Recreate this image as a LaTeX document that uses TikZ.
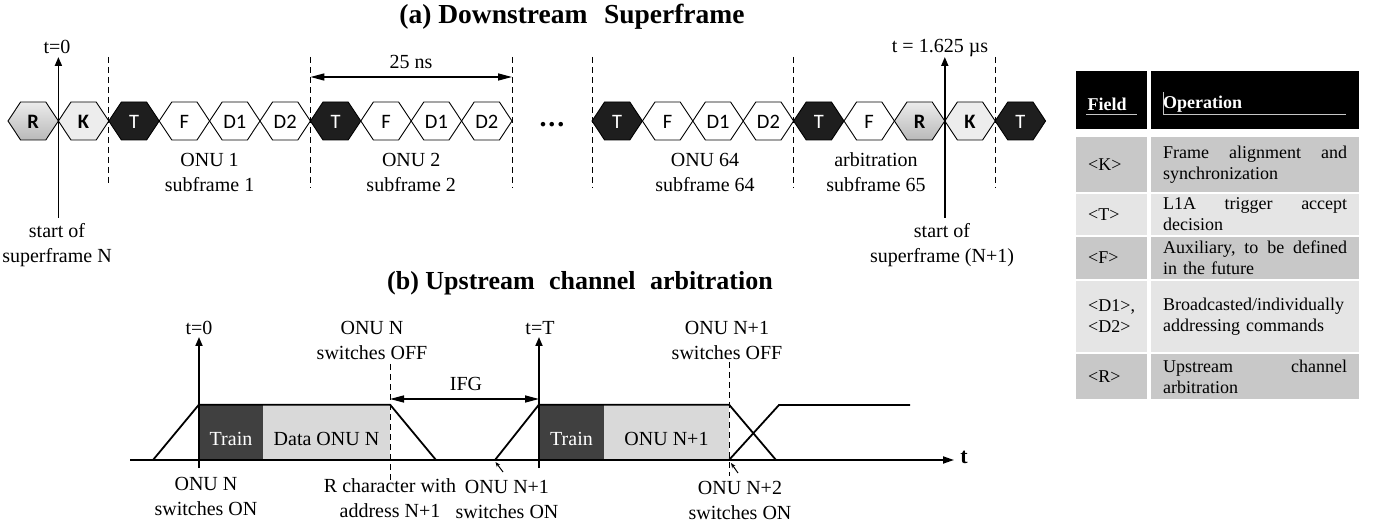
\documentclass[tikz,border=0pt]{standalone}
\usepackage{fontspec}
\setmainfont{Liberation Serif}
\newfontfamily\hexfont{Carlito}
\usetikzlibrary{arrows.meta}
\definecolor{hexK}{HTML}{EDEDED}
\definecolor{hexT}{HTML}{1E1E1E}
\definecolor{darkbox}{HTML}{404040}
\definecolor{lightbox}{HTML}{D9D9D9}
\definecolor{rowmid}{HTML}{C8C8C8}
\definecolor{rowlight}{HTML}{E5E5E5}
\newcommand{\hexcell}[5]{%
  \path[hexline,#3] ({#2-25.2},121) -- ({#2-12.6},102) -- ({#2+12.6},102) -- ({#2+25.2},121) -- ({#2+12.6},140) -- ({#2-12.6},140) -- cycle;
  \node[hexlabel,#4] (#1) at (#2,121.5) {#5};}
\newcommand{\justline}[1]{\makebox[184pt]{#1}}
\begin{document}
\begin{tikzpicture}[x=1pt,y=-1pt,
  hexline/.style={draw=black, line width=0.9pt, line join=miter},
  hexlabel/.style={font=\hexfont\fontsize{20.5}{21}\selectfont, inner sep=0pt},
  rfill/.style={top color=gray!15, bottom color=gray!55},
  kfill/.style={fill=hexK},
  tfill/.style={fill=hexT},
  wfill/.style={fill=white},
  dtext/.style={text=black, font=\hexfont\bfseries\fontsize{20.5}{21}\selectfont},
  wtext/.style={text=white},
  ntext/.style={text=black},
  lab/.style={font=\fontsize{20}{25}\selectfont, align=center, inner sep=0pt},
  ttl/.style={font=\bfseries\fontsize{27.5}{30}\selectfont, inner sep=0pt},
  dashline/.style={draw=black, line width=1pt, dash pattern=on 6pt off 4pt},
  timearrow/.style={draw=black, line width=1.8pt, -{Triangle[length=9pt,width=7pt]}},
  spanarrow/.style={draw=black, line width=1.5pt, {Triangle[length=14pt,width=7pt]}-{Triangle[length=14pt,width=7pt]}},
  sig/.style={draw=black, line width=1.8pt, line join=miter},
  ptr/.style={draw=black, line width=1pt, -{Stealth[length=5pt,width=4pt]}},
  trainbox/.style={fill=darkbox, minimum height=55pt, inner sep=0pt},
  databox/.style={fill=lightbox, minimum height=55pt, inner sep=0pt},
  boxtext/.style={font=\fontsize{20}{22}\selectfont, inner sep=0pt},
  hcell/.style={fill=black, anchor=north west, inner sep=0pt},
  cell/.style={anchor=north west, inner sep=0pt},
  htext/.style={text=white, font=\bfseries\fontsize{18}{21}\selectfont, inner sep=0pt},
  ftext/.style={font=\fontsize{18}{21}\selectfont, inner sep=0pt, anchor=west, align=left},
  otext/.style={font=\fontsize{18}{21}\selectfont, inner sep=0pt, anchor=west, text width=186pt, align=left}
]
\useasboundingbox (0,0) rectangle (1374,529);

% ---------------- (a) Downstream superframe ----------------
\node[ttl] (titleA) at (572,17) {(a) Downstream\hspace{0.35em} Superframe};

% row 1 hexagons
\hexcell{hRa}{33.2}{rfill}{dtext}{R}
\hexcell{hKa}{83.6}{kfill}{dtext}{K}
\hexcell{hTa}{134}{tfill}{wtext}{T}
\hexcell{hFa}{184.4}{wfill}{ntext}{F}
\hexcell{hDa}{234.8}{wfill}{ntext}{D1}
\hexcell{hDb}{285.2}{wfill}{ntext}{D2}
\hexcell{hTb}{335.6}{tfill}{wtext}{T}
\hexcell{hFb}{386}{wfill}{ntext}{F}
\hexcell{hDc}{436.4}{wfill}{ntext}{D1}
\hexcell{hDd}{486.8}{wfill}{ntext}{D2}
% row 2 hexagons
\hexcell{hTc}{617.2}{tfill}{wtext}{T}
\hexcell{hFc}{667.6}{wfill}{ntext}{F}
\hexcell{hDe}{718}{wfill}{ntext}{D1}
\hexcell{hDf}{768.4}{wfill}{ntext}{D2}
\hexcell{hTd}{818.8}{tfill}{wtext}{T}
\hexcell{hFd}{869.2}{wfill}{ntext}{F}
\hexcell{hRb}{919.6}{rfill}{dtext}{R}
\hexcell{hKb}{970}{kfill}{dtext}{K}
\hexcell{hTe}{1020.4}{tfill}{wtext}{T}

\node[anchor=base, inner sep=0pt, font=\bfseries\fontsize{28}{28}\selectfont] (dots) at (552,127) {.\hspace{2pt}.\hspace{2pt}.};

% dashed separators
\foreach \n/\x/\b in {da/108.8/184, db/310.4/188, dc/512/188, dd/592/188, de/793.6/188, df/995.2/188}{
  \coordinate (\n top) at (\x,57);
  \coordinate (\n bot) at (\x,\b);
  \draw[dashline] (\n top) -- (\n bot);
}

% 25 ns span
\coordinate (nsL) at (310.4,77);
\coordinate (nsR) at (512,77);
\draw[spanarrow] (nsL) -- (nsR);
\node[lab] (ns) at (411,62) {25 ns};

% time markers
\node[lab] (t0a) at (57,47) {t=0};
\coordinate (t0abot) at (58.4,218);
\coordinate (t0atop) at (58.4,57);
\draw[timearrow] (t0abot) -- (t0atop);
\node[lab] (tend) at (940,48) {t = 1.625 µs};
\coordinate (tebot) at (944.8,218);
\coordinate (tetop) at (944.8,57);
\draw[timearrow] (tebot) -- (tetop);

% labels
\node[lab] (sfN) at (57,245) {start of\\superframe N};
\node[lab] (sf1) at (209.6,172.5) {ONU 1\\subframe 1};
\node[lab] (sf2) at (411.2,172.5) {ONU 2\\subframe 2};
\node[lab] (sf64) at (705,172.5) {ONU 64\\subframe 64};
\node[lab] (sf65) at (876,172.5) {arbitration\\subframe 65};
\node[lab] (sfN1) at (942,245) {start of\\superframe (N+1)};

% ---------------- (b) Upstream channel arbitration ----------------
\node[ttl, font=\bfseries\fontsize{26}{30}\selectfont] (titleB) at (580,283) {(b) Upstream\hspace{0.3em} channel\hspace{0.3em} arbitration};

\coordinate (ax0) at (130,460);
\coordinate (ax1) at (954,460);

% ONU N burst
\node[trainbox, minimum width=64pt] (tr1) at (231,432.5) {};
\node[databox, minimum width=127pt] (da1) at (326.5,432.5) {};
\node[boxtext, text=white] (tr1t) at (231,439) {Train};
\node[boxtext] (da1t) at (326.5,439) {Data ONU N};
\coordinate (r1a) at (153,460);
\coordinate (r1b) at (436,460);
\draw[sig] (r1a) -- (tr1.north west) -- (da1.north east) -- (r1b);

% ONU N+1 burst
\node[trainbox, minimum width=65pt] (tr2) at (571.5,432.5) {};
\node[databox, minimum width=125pt] (da2) at (666.5,432.5) {};
\node[boxtext, text=white] (tr2t) at (571.5,439) {Train};
\node[boxtext] (da2t) at (666.5,439) {ONU N+1};
\coordinate (r2a) at (495,460);
\coordinate (r2b) at (776,460);
\draw[sig] (r2a) -- (tr2.north west) -- (da2.north east) -- (r2b);

% ONU N+2 ramp
\coordinate (r3a) at (729,460);
\coordinate (r3b) at (779,405);
\coordinate (r3c) at (910,405);
\draw[sig] (r3a) -- (r3b) -- (r3c);

% time axis
\draw[sig, -{Triangle[length=11pt,width=7pt]}] (ax0) -- (ax1);
\node[inner sep=0pt, font=\bfseries\fontsize{22}{24}\selectfont] (tax) at (964,457) {t};

% t=0 and t=T
\coordinate (t0bbot) at (199,468);
\coordinate (t0btop) at (199,337);
\draw[timearrow] (t0bbot) -- (t0btop);
\node[lab] (t0b) at (199,328) {t=0};
\coordinate (tTbot) at (539,468);
\coordinate (tTtop) at (539,337);
\draw[timearrow] (tTbot) -- (tTtop);
\node[lab] (tT) at (540,328) {t=T};

% dashed switch-off marks
\coordinate (off1top) at (390,364);
\coordinate (off1bot) at (390,480);
\draw[dashline] (off1top) -- (off1bot);
\coordinate (off2top) at (729,362);
\coordinate (off2bot) at (729,476);
\draw[dashline] (off2top) -- (off2bot);

% IFG
\coordinate (ifgL) at (390,399);
\coordinate (ifgR) at (539,399);
\draw[spanarrow] (ifgL) -- (ifgR);
\node[lab] (ifg) at (466,384) {IFG};

% small pointers
\coordinate (p1s) at (503,472);
\coordinate (p1e) at (495.5,462);
\draw[ptr] (p1s) -- (p1e);
\coordinate (p2s) at (738,473);
\coordinate (p2e) at (731,463);
\draw[ptr] (p2s) -- (p2e);

% labels
\node[lab] (onuNoff) at (372,340) {ONU N\\switches OFF};
\node[lab] (onuN1off) at (727,340) {ONU N+1\\switches OFF};
\node[lab] (onuNon) at (206,496.5) {ONU N\\switches ON};
\node[lab] (rchar) at (390,498.5) {R character with\\address N+1};
\node[lab] (onuN1on) at (507,499.5) {ONU N+1\\switches ON};
\node[lab] (onuN2on) at (740,500.5) {ONU N+2\\switches ON};

% ---------------- table ----------------
\node[hcell, minimum width=71pt, minimum height=58pt] (hdF) at (1076,71) {};
\node[hcell, minimum width=208pt, minimum height=58pt] (hdO) at (1151,71) {};
\node[htext] (hdFt) at (1107,104) {Field};
\node[htext, anchor=west] (hdOt) at (1163,104) {Operation};
\draw[gray!45, line width=0.5pt] (1086,114) -- (1137,114);
\draw[gray!45, line width=0.5pt] (1163,114) -- (1346,114);
\draw[gray!45, line width=0.5pt] (1163,92) -- (1163,114);

\foreach \n/\y/\h/\c in {K/137/55/rowmid, T/194/41/rowlight, F/237/42/rowmid, D/281/71/rowlight, R/354/45/rowmid}{
  \node[cell, fill=\c, minimum width=71pt, minimum height=\h pt] (c\n f) at (1076,\y) {};
  \node[cell, fill=\c, minimum width=208pt, minimum height=\h pt] (c\n o) at (1151,\y) {};
}
\node[ftext] (tKf) at (1088,164.5) {<K>};
\node[otext] (tKo) at (1163,164.5) {\justline{Frame\hfill alignment\hfill and}\\synchronization};
\node[ftext] (tTf) at (1088,214.5) {<T>};
\node[otext] (tTo) at (1163,214.5) {\justline{L1A\hfill trigger\hfill accept}\\decision};
\node[ftext] (tFf) at (1088,258) {<F>};
\node[otext] (tFo) at (1163,258) {\justline{Auxiliary,\hfill to\hfill be\hfill defined}\\in the future};
\node[ftext] (tDf) at (1088,316.5) {<D1>,\\<D2>};
\node[otext] (tDo) at (1163,316.5) {Broadcasted/individually\\addressing commands};
\node[ftext] (tRf) at (1088,376.5) {<R>};
\node[otext] (tRo) at (1163,376.5) {\justline{Upstream\hfill channel}\\arbitration};
\end{tikzpicture}
\end{document}
